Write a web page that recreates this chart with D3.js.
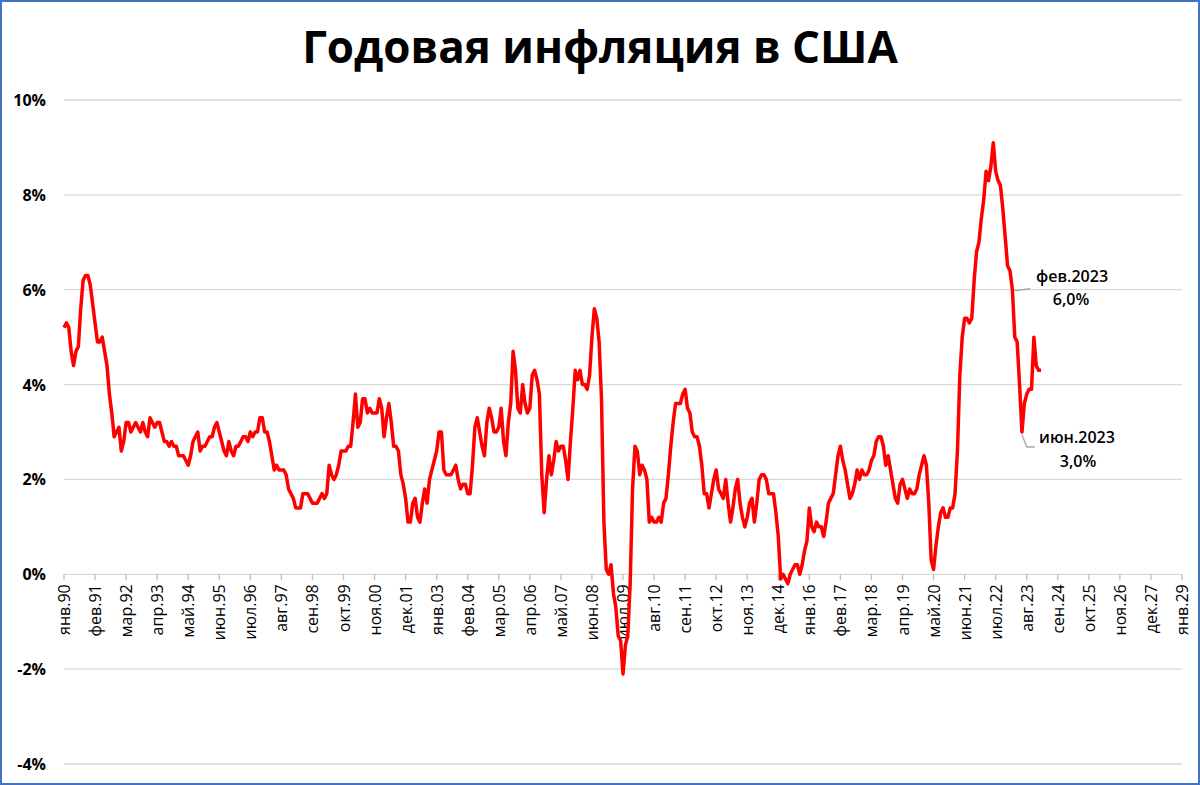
<!DOCTYPE html>
<html>
<head>
<meta charset="utf-8">
<script src="https://cdn.jsdelivr.net/npm/d3@7"></script>
<style>
  body { margin: 0; background: #fff; }
  svg { font-family: "Open Sans", "DejaVu Sans", sans-serif; }
</style>
</head>
<body>
<div id="chart"></div>
<script>
// monthly US CPI, % year over year, starting Jan 1990
const inflation = [
  5.2,5.3,5.2,4.7,4.4,4.7,4.8,5.6,6.2,6.3,6.3,6.1,
  5.7,5.3,4.9,4.9,5.0,4.7,4.4,3.8,3.4,2.9,3.0,3.1,
  2.6,2.8,3.2,3.2,3.0,3.1,3.2,3.1,3.0,3.2,3.0,2.9,
  3.3,3.2,3.1,3.2,3.2,3.0,2.8,2.8,2.7,2.8,2.7,2.7,
  2.5,2.5,2.5,2.4,2.3,2.5,2.8,2.9,3.0,2.6,2.7,2.7,
  2.8,2.9,2.9,3.1,3.2,3.0,2.8,2.6,2.5,2.8,2.6,2.5,
  2.7,2.7,2.8,2.9,2.9,2.8,3.0,2.9,3.0,3.0,3.3,3.3,
  3.0,3.0,2.8,2.5,2.2,2.3,2.2,2.2,2.2,2.1,1.8,1.7,
  1.6,1.4,1.4,1.4,1.7,1.7,1.7,1.6,1.5,1.5,1.5,1.6,
  1.7,1.6,1.7,2.3,2.1,2.0,2.1,2.3,2.6,2.6,2.6,2.7,
  2.7,3.2,3.8,3.1,3.2,3.7,3.7,3.4,3.5,3.4,3.4,3.4,
  3.7,3.5,2.9,3.3,3.6,3.2,2.7,2.7,2.6,2.1,1.9,1.6,
  1.1,1.1,1.5,1.6,1.2,1.1,1.5,1.8,1.5,2.0,2.2,2.4,
  2.6,3.0,3.0,2.2,2.1,2.1,2.1,2.2,2.3,2.0,1.8,1.9,
  1.9,1.7,1.7,2.3,3.1,3.3,3.0,2.7,2.5,3.2,3.5,3.3,
  3.0,3.0,3.1,3.5,2.8,2.5,3.2,3.6,4.7,4.3,3.5,3.4,
  4.0,3.6,3.4,3.5,4.2,4.3,4.1,3.8,2.1,1.3,2.0,2.5,
  2.1,2.4,2.8,2.6,2.7,2.7,2.4,2.0,2.8,3.5,4.3,4.1,
  4.3,4.0,4.0,3.9,4.2,5.0,5.6,5.4,4.9,3.7,1.1,0.1,
  0.0,0.2,-0.4,-0.7,-1.3,-1.4,-2.1,-1.5,-1.3,-0.2,1.8,2.7,
  2.6,2.1,2.3,2.2,2.0,1.1,1.2,1.1,1.1,1.2,1.1,1.5,
  1.6,2.1,2.7,3.2,3.6,3.6,3.6,3.8,3.9,3.5,3.4,3.0,
  2.9,2.9,2.7,2.3,1.7,1.7,1.4,1.7,2.0,2.2,1.8,1.7,
  1.6,2.0,1.5,1.1,1.4,1.8,2.0,1.5,1.2,1.0,1.2,1.5,
  1.6,1.1,1.5,2.0,2.1,2.1,2.0,1.7,1.7,1.7,1.3,0.8,
  -0.1,0.0,-0.1,-0.2,0.0,0.1,0.2,0.2,0.0,0.2,0.5,0.7,
  1.4,1.0,0.9,1.1,1.0,1.0,0.8,1.1,1.5,1.6,1.7,2.1,
  2.5,2.7,2.4,2.2,1.9,1.6,1.7,1.9,2.2,2.0,2.2,2.1,
  2.1,2.2,2.4,2.5,2.8,2.9,2.9,2.7,2.3,2.5,2.2,1.9,
  1.6,1.5,1.9,2.0,1.8,1.6,1.8,1.7,1.7,1.8,2.1,2.3,
  2.5,2.3,1.5,0.3,0.1,0.6,1.0,1.3,1.4,1.2,1.2,1.4,
  1.4,1.7,2.6,4.2,5.0,5.4,5.4,5.3,5.4,6.2,6.8,7.0,
  7.5,7.9,8.5,8.3,8.6,9.1,8.5,8.3,8.2,7.7,7.1,6.5,
  6.4,6.0,5.0,4.9,4.0,3.0,3.6,3.8,3.9,3.9,5.0,4.4,
  4.3,4.3
];
const monthNames = ["янв","фев","мар","апр","май","июн","июл","авг","сен","окт","ноя","дек"];
const yTicks = [-4, -2, 0, 2, 4, 6, 8, 10];
const startYear = 1990;
const totalMonths = 468; // Jan 1990 .. Jan 2029
const tickStep = 13;
const notes = [
  { label: "фев.2023", value: "6,0%", month: 397 },
  { label: "июн.2023", value: "3,0%", month: 401 }
];

const width = 1200, height = 785;
const margin = { left: 64, right: 18, top: 100, bottom: 21 };

const svg = d3.select('#chart').append('svg')
  .attr('width', width).attr('height', height);

svg.append('rect')
  .attr('x', 1).attr('y', 1).attr('width', width - 2).attr('height', height - 2)
  .attr('fill', '#fff').attr('stroke', '#4472c4').attr('stroke-width', 2);

svg.append('text')
  .attr('x', 600).attr('y', 63)
  .attr('text-anchor', 'middle')
  .style('font-size', '44px').style('font-weight', 700)
  .text('Годовая инфляция в США');

const x = d3.scaleLinear().domain([0, totalMonths]).range([margin.left, width - margin.right]);
const y = d3.scaleLinear().domain([-4, 10]).range([764, 100]);

// grid
svg.append('g').selectAll('line').data(yTicks).enter().append('line')
  .attr('x1', x(0)).attr('x2', x(totalMonths))
  .attr('y1', d => y(d)).attr('y2', d => y(d))
  .attr('stroke', '#d9d9d9').attr('stroke-width', 1.3);

svg.append('g').selectAll('text').data(yTicks).enter().append('text')
  .attr('x', 46).attr('y', d => y(d) + 6)
  .attr('text-anchor', 'end')
  .style('font-size', '16px').style('font-weight', 700)
  .text(d => d + '%');

// x axis at 0%
const ticks = d3.range(0, totalMonths + 1, tickStep);
const axis = svg.append('g');
axis.selectAll('line').data(ticks).enter().append('line')
  .attr('x1', d => x(d)).attr('x2', d => x(d))
  .attr('y1', y(0)).attr('y2', y(0) + 6)
  .attr('stroke', '#bfbfbf').attr('stroke-width', 1.3);
axis.selectAll('text').data(ticks).enter().append('text')
  .attr('transform', d => `translate(${x(d) + 6},${y(0) + 10}) rotate(-90)`)
  .attr('text-anchor', 'end')
  .style('font-size', '16px')
  .text(d => monthNames[d % 12] + '.' + String((startYear + Math.floor(d / 12)) % 100).padStart(2, '0'));

// line
const line = d3.line().x((d, i) => x(i)).y(d => y(d));
svg.append('path').datum(inflation)
  .attr('d', line)
  .attr('fill', 'none').attr('stroke', '#ff0000')
  .attr('stroke-width', 3.5).attr('stroke-linejoin', 'round');

// annotations
const n0 = notes[0], n1 = notes[1];
const p0 = [x(n0.month) + 2, y(6.0) + 1];
svg.append('path')
  .attr('d', `M${p0[0]},${p0[1]} L${p0[0] + 16},${p0[1] - 2}`)
  .attr('stroke', '#a6a6a6').attr('stroke-width', 1.3).attr('fill', 'none');
svg.append('text').attr('x', 1072).attr('y', 282).attr('text-anchor', 'middle')
  .style('font-size', '16px').style('font-weight', 600).text(n0.label);
svg.append('text').attr('x', 1071).attr('y', 305).attr('text-anchor', 'middle')
  .style('font-size', '16px').style('font-weight', 600).text(n0.value);

const p1 = [x(n1.month), y(3.0) + 3];
svg.append('path')
  .attr('d', `M${p1[0]},${p1[1]} L${p1[0] + 5},${p1[1] + 12} L${p1[0] + 13},${p1[1] + 12}`)
  .attr('stroke', '#a6a6a6').attr('stroke-width', 1.3).attr('fill', 'none');
svg.append('text').attr('x', 1077).attr('y', 443).attr('text-anchor', 'middle')
  .style('font-size', '16px').style('font-weight', 600).text(n1.label);
svg.append('text').attr('x', 1078).attr('y', 467).attr('text-anchor', 'middle')
  .style('font-size', '16px').style('font-weight', 600).text(n1.value);
</script>
</body>
</html>
